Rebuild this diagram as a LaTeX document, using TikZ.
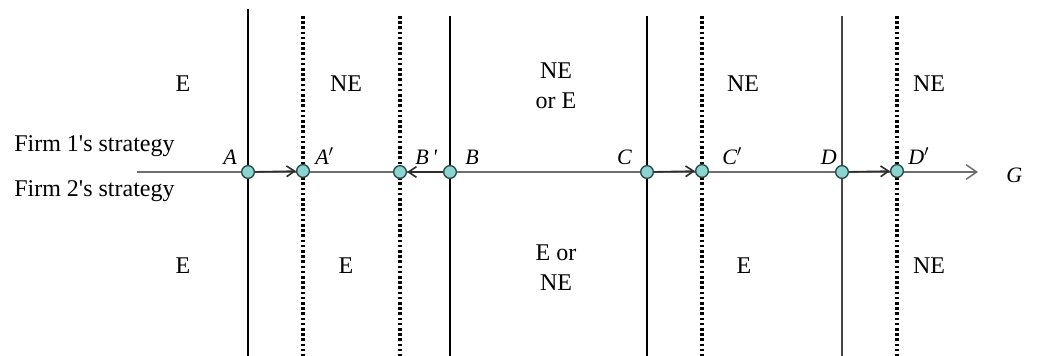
\documentclass[tikz,border=0pt]{standalone}
\usepackage{fontspec}
\setmainfont{Liberation Serif}
\usetikzlibrary{arrows.meta}

\begin{document}
\begin{tikzpicture}[x=0.75pt,y=0.75pt,yscale=-1,xscale=1,
	eqpt/.style={circle,draw={rgb, 255:red, 40; green, 72; blue, 72 },fill={rgb, 255:red, 140; green, 212; blue, 208 },line width=1pt,minimum size=9.5pt,inner sep=0pt},
	bound/.style={line width=1.1pt},
	dotbound/.style={line width=2.5pt,dash pattern={on 2pt off 1.9pt}},
	shiftarr/.style={-{Straight Barb[length=6pt,width=8pt]},line width=1.2pt,color={rgb, 255:red, 45; green, 45; blue, 45 }},
	region/.style={font=\fontsize{18}{22.5}\selectfont,align=center,inner sep=0pt},
	ptlabel/.style={font=\fontsize{16.5}{18}\selectfont\itshape,inner sep=0pt}]
	\useasboundingbox (0,0) rectangle (1040,356);
	
	%Straight Lines (boundaries)
	\draw [bound,line width=1.5pt] (248,9) -- (248,356) ;
	\draw [dotbound] (303,16) -- (303,356) ;
	\draw [dotbound] (400,16) -- (400,356) ;
	\draw [bound] (450,16) -- (450,356) ;
	\draw [bound] (647,16) -- (647,356) ;
	\draw [dotbound] (702,16) -- (702,356) ;
	\draw [bound,color={rgb, 255:red, 70; green, 70; blue, 70 }] (842,16) -- (842,356) ;
	\draw [dotbound] (897,16) -- (897,356) ;
	
	%Axis
	\coordinate (axl) at (137,172) ;
	\coordinate (axr) at (978,172) ;
	\draw [color={rgb, 255:red, 110; green, 110; blue, 110 },line width=1.1pt,-{Straight Barb[length=8pt,width=11pt]}] (axl) -- (axr) ;
	
	%Shape: Circles
	\node [eqpt] (A) at (248,172) {};
	\node [eqpt] (A') at (303,171) {};
	\node [eqpt] (B') at (400,172) {};
	\node [eqpt] (B) at (450,172) {};
	\node [eqpt] (C) at (647,172) {};
	\node [eqpt] (C') at (702,171) {};
	\node [eqpt] (D) at (842,172) {};
	\node [eqpt] (D') at (897,171) {};
	
	%Straight Lines (shifts)
	\draw [shiftarr] (A) -- (A') ;
	\draw [shiftarr] (B) -- (B') ;
	\draw [shiftarr] (C) -- (C') ;
	\draw [shiftarr] (D) -- (D') ;
	
	% Text Node
	\node [ptlabel,anchor=base east] (lA) at (237,165) {A};
	\node [ptlabel,anchor=base west] (lA') at (315,165) {A$'$};
	\node [ptlabel,anchor=base west] (lB') at (415,165) {B\,\textquotesingle};
	\node [ptlabel,anchor=base west] (lB) at (465,165) {B};
	\node [ptlabel,anchor=base east] (lC) at (632,165) {C};
	\node [ptlabel,anchor=base west] (lC') at (722,165) {C$'$};
	\node [ptlabel,anchor=base east] (lD) at (837,165) {D};
	\node [ptlabel,anchor=base west] (lD') at (908,165) {D$'$};
	\node [ptlabel,anchor=base west] (lG) at (1006,183) {G};
	
	% Text Node
	\node [region,anchor=base west] (firm1) at (14,151.5) {Firm 1\textquotesingle s strategy};
	\node [region,anchor=base west] (firm2) at (14,196.5) {Firm 2\textquotesingle s strategy};
	
	% Text Node
	\node [region,anchor=base] (u1) at (183,92) {E};
	\node [region,anchor=base] (u2) at (346,92) {NE};
	\node [region] (u3) at (556,86) {NE\\or E};
	\node [region,anchor=base] (u4) at (743,92) {NE};
	\node [region,anchor=base] (u5) at (929,92) {NE};
	
	% Text Node
	\node [region,anchor=base] (d1) at (183,274) {E};
	\node [region,anchor=base] (d2) at (346,274) {E};
	\node [region] (d3) at (556,268) {E or\\NE};
	\node [region,anchor=base] (d4) at (744,274) {E};
	\node [region,anchor=base] (d5) at (929,274) {NE};
	
\end{tikzpicture}
\end{document}
